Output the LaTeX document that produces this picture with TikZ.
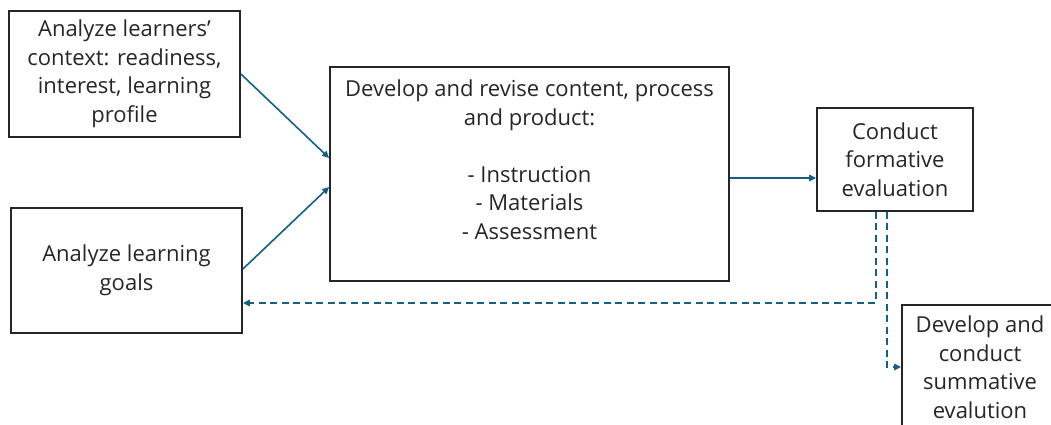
\documentclass[tikz,border=0pt]{standalone}
\usepackage{fontspec}
\setmainfont{Open Sans}
\usetikzlibrary{arrows.meta,calc}
\definecolor{linkblue}{HTML}{156082}
\tikzstyle{box} = [draw=black!85, line width=1.8pt, text=black!85, text centered, align=center, inner sep=0pt, font=\fontsize{22}{28.5}\selectfont]
\tikzstyle{link} = [draw=linkblue, line width=1.6pt, -{Triangle[length=7pt,width=6.5pt]}]
\tikzstyle{back} = [link, dash pattern=on 7pt off 4.5pt]

\begin{document}
\begin{tikzpicture}[x=1pt, y=-1pt]
    \clip (0,0) rectangle (1051,425);

    \node[box, minimum width=231pt, minimum height=126pt] (ctx) at (124.5,74) {Analyze learners'\\ context: readiness,\\ interest, learning\\ profile};
    \node[box, minimum width=231pt, minimum height=125pt] (goals) at (126.5,270.5) {Analyze learning\\ goals};
    \node[box, minimum width=399pt, minimum height=214pt] (dev) at (529.5,174) {Develop and revise content, process\\ and product:\\ \\ - Instruction\\ - Materials\\ - Assessment\\ ~};
    \node[box, minimum width=156pt, minimum height=103pt] (form) at (895,159.5) {Conduct\\ formative\\ evaluation};
    \node[box, minimum width=156pt, minimum height=124pt] (summ) at (980,367) {Develop and\\ conduct\\ summative\\ evalution};

    \draw[link] (ctx.east) -- ($(dev.west)+(0,-16)$);
    \draw[link] ($(goals.east)+(0,-1.5)$) -- ($(dev.west)+(0,13)$);
    \draw[link] ($(dev.east)+(0,4)$) -- ($(form.west)+(0,18.5)$);
    % feedback paths out of the formative evaluation
    \draw[back] ($(form.south)+(-19,0)$) |- ($(goals.east)+(0,32.5)$);
    \draw[back] ($(form.south)+(-8,0)$) |- (summ.west);
\end{tikzpicture}
\end{document}
